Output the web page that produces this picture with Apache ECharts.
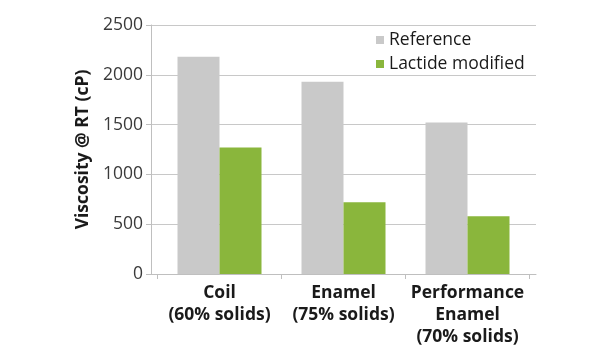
<!DOCTYPE html>
<html>
<head>
<meta charset="utf-8">
<script src="https://cdn.jsdelivr.net/npm/echarts@6/dist/echarts.min.js"></script>
<style>
html,body{margin:0;padding:0;background:#fff;}
#chart{width:615px;height:350px;}
</style>
</head>
<body>
<div id="chart"></div>
<script>
var categories = ['Coil\n(60% solids)', 'Enamel\n(75% solids)', 'Performance\nEnamel\n(70% solids)'];
var referenceValues = [2180, 1930, 1520];
var lactideValues = [1270, 720, 580];
var seriesNames = ['Reference', 'Lactide modified'];
var yTicks = [0, 500, 1000, 1500, 2000, 2500];

var chart = echarts.init(document.getElementById('chart'), null, {renderer: 'canvas'});
var font = '"Open Sans", "Noto Sans", sans-serif';
var yMin = yTicks[0], yMax = yTicks[yTicks.length - 1], yStep = yTicks[1] - yTicks[0];
chart.setOption({
  animation: false,
  backgroundColor: '#ffffff',
  grid: [
    {left: 151, right: 79, top: 25, bottom: 76, containLabel: false},
    {left: 157.5, right: 85.5, top: 25, bottom: 76, containLabel: false}
  ],
  legend: {
    orient: 'vertical',
    left: 371,
    top: 26,
    icon: 'rect',
    itemWidth: 8,
    itemHeight: 8,
    itemGap: 6,
    textStyle: {fontFamily: font, fontSize: 17.5, color: '#1a1a1a', lineHeight: 17},
    data: seriesNames
  },
  xAxis: [
    {
      type: 'category', gridIndex: 0, data: categories,
      axisLine: {show: true, lineStyle: {color: '#bfbfbf', width: 1}},
      axisTick: {show: false}, axisLabel: {show: false}, splitLine: {show: false}
    },
    {
      type: 'category', gridIndex: 1, data: categories,
      axisLine: {show: false},
      axisTick: {show: true, length: 5, lineStyle: {color: '#bfbfbf'}},
      axisLabel: {fontFamily: font, fontSize: 17.5, fontWeight: 'bold', color: '#1a1a1a', lineHeight: 22, margin: 8, interval: 0}
    }
  ],
  yAxis: [
    {
      type: 'value', gridIndex: 0, min: yMin, max: yMax, interval: yStep,
      name: 'Viscosity @ RT (cP)',
      nameLocation: 'middle',
      nameGap: 57,
      nameRotate: 90,
      nameTextStyle: {fontFamily: font, fontSize: 17.5, fontWeight: 'bold', color: '#1a1a1a'},
      axisLine: {show: true, lineStyle: {color: '#bfbfbf', width: 1}},
      axisTick: {show: true, inside: false, length: 5, lineStyle: {color: '#bfbfbf'}},
      axisLabel: {fontFamily: font, fontSize: 17.5, color: '#3a3a3a', margin: 8, formatter: function (v) { return String(v); }},
      splitLine: {show: true, lineStyle: {color: '#c8c8c8', width: 1}}
    },
    {
      type: 'value', gridIndex: 1, min: yMin, max: yMax, interval: yStep,
      axisLine: {show: false}, axisTick: {show: false}, axisLabel: {show: false}, splitLine: {show: false}
    }
  ],
  series: [
    {name: seriesNames[0], type: 'bar', xAxisIndex: 1, yAxisIndex: 1, data: referenceValues, barWidth: 42, barGap: '0%',
     itemStyle: {color: '#c9c9c9'}},
    {name: seriesNames[1], type: 'bar', xAxisIndex: 1, yAxisIndex: 1, data: lactideValues, barWidth: 42, barGap: '0%',
     itemStyle: {color: '#8ab63c'}}
  ]
});
</script>
</body>
</html>
